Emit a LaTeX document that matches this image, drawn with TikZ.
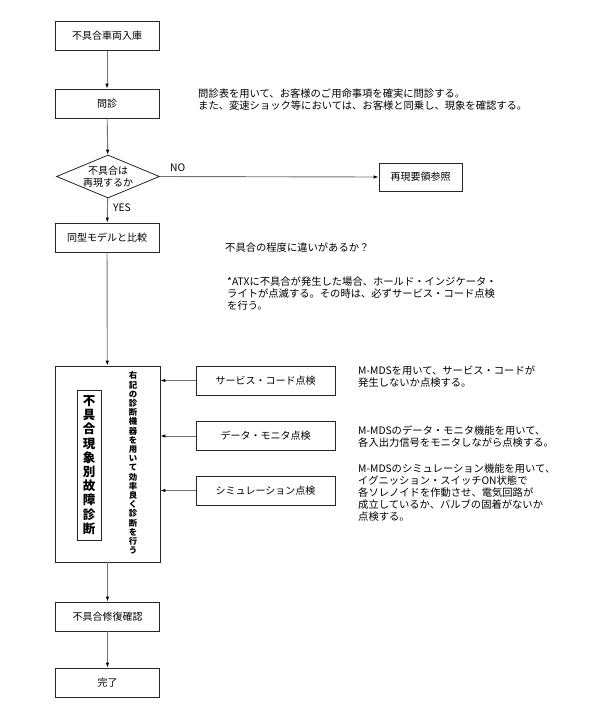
\documentclass[tikz,border=0pt]{standalone}
\usepackage{fontspec}
\setmainfont{Noto Sans CJK JP}
\usetikzlibrary{shapes.geometric, arrows.meta, positioning, calc}
\tikzset{
    base/.style={draw=black!85, line width=0.8pt, font=\fontsize{10}{11.5}\selectfont, align=center, inner sep=2pt},
    block/.style={base, rectangle, minimum width=104pt, minimum height=29pt},
    sideblock/.style={base, rectangle, minimum width=139pt, minimum height=29pt},
    decision/.style={base, diamond, aspect=2.4, minimum width=103pt, minimum height=43pt, inner sep=0pt},
    note/.style={font=\fontsize{10.3}{12}\selectfont, align=left, inner sep=0pt, anchor=north west},
    line/.style={draw=black!55, line width=0.9pt, -{Latex[length=5pt,width=3.5pt,color=black]}}
}

\begin{document}
\begin{tikzpicture}[x=1pt, y=-1pt]
    \useasboundingbox (0,0) rectangle (598,718);

    % main flow
    \node [block] (IN) at (107,36) {不具合車両入庫};
    \node [block] (MS) at (107,103.5) {問診};
    \node [decision] (RP) at (108,176.5) {不具合は\\再現するか};
    \node [base, rectangle, minimum width=83pt, minimum height=28pt] (REF) at (420.5,177) {再現要領参照};
    \node [block] (CMP) at (107,237.5) {同型モデルと比較};
    \node [base, rectangle, minimum width=105pt, minimum height=196pt] (DG) at (107.5,464) {};
    \node [base, rectangle, minimum width=24pt, minimum height=150pt, inner sep=1pt,
           font=\fontsize{12.5}{14.2}\selectfont\bfseries] (DGT) at (89,465)
          {不\\具\\合\\現\\象\\別\\故\\障\\診\\断};
    \node [align=center, inner sep=0pt, font=\fontsize{8.4}{9.2}\selectfont\bfseries] (DGN) at (133,463)
          {右\\記\\の\\診\\断\\機\\器\\を\\用\\い\\て\\効\\率\\良\\く\\診\\断\\を\\行\\う};
    \node [block] (FIX) at (107.5,616.5) {不具合修復確認};
    \node [block] (END) at (107.5,682.5) {完了};

    % diagnosis tools
    \node [sideblock] (SC) at (265.5,380.5) {サービス・コード点検};
    \node [sideblock] (DM) at (265.5,436) {データ・モニタ点検};
    \node [sideblock] (SM) at (265.5,490.5) {シミュレーション点検};

    \draw [line] (IN) -- (MS);
    \draw [line] (MS) -- (RP);
    \draw [line] (RP) -- (CMP);
    \draw [line] (CMP) -- (DG);
    \draw [line] (DG) -- (FIX);
    \draw [line] (FIX) -- (END);
    \draw [line] (RP.east) -- (REF.west);
    \draw [line] (SC.west) -- (SC.west -| DG.east);
    \draw [line] (DM.west) -- (DM.west -| DG.east);
    \draw [line] (SM.west) -- (SM.west -| DG.east);

    \node [note, anchor=west] (NO) at (170,168) {NO};
    \node [note, anchor=west] (YES) at (113,208) {YES};

    % notes
    \node [note] (N1) at (198,89) {問診表を用いて、お客様のご用命事項を確実に問診する。\\また、変速ショック等においては、お客様と同乗し、現象を確認する。};
    \node [note, anchor=west] (N2) at (225,248) {不具合の程度に違いがあるか？};
    \node [note] (N3) at (227,277) {*ATXに不具合が発生した場合、ホールド・インジケータ・\\ライトが点滅する。その時は、必ずサービス・コード点検\\を行う。};
    \node [note] (N4) at (358,366) {M-MDSを用いて、サービス・コードが\\発生しないか点検する。};
    \node [note] (N5) at (358,426) {M-MDSのデータ・モニタ機能を用いて、\\各入出力信号をモニタしながら点検する。};
    \node [note] (N6) at (358,464) {M-MDSのシミュレーション機能を用いて、\\イグニッション・スイッチON状態で\\各ソレノイドを作動させ、電気回路が\\成立しているか、バルブの固着がないか\\点検する。};
\end{tikzpicture}
\end{document}
